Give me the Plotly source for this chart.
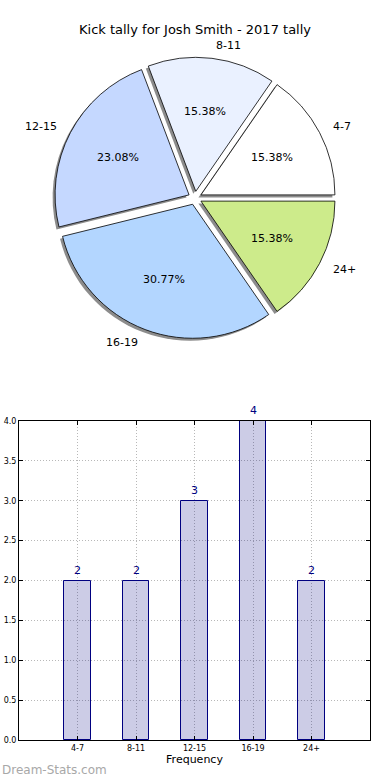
import math
import plotly.graph_objects as go

# ---- data ----
categories = ["4-7", "8-11", "12-15", "16-19", "24+"]
counts = [2, 2, 3, 4, 2]
slice_colors = ["#FFFFFF", "#EAF1FF", "#C5D8FF", "#B3D6FF", "#CDEB8B"]
y_ticks = [0.0, 0.5, 1.0, 1.5, 2.0, 2.5, 3.0, 3.5, 4.0]
title_text = "Kick tally for Josh Smith - 2017 tally"

W, H = 390, 780
FONT = "DejaVu Sans"

# pie geometry (pixels)
cx, cy, R = 195.0, 198.0, 134.0
pull = 0.05
half = R * (1 + pull)
total = sum(counts)
# plotly's counterclockwise start: first slice occupies [rotation, rotation+v] clockwise from 12 o'clock
rotation = 90 - 360.0 * counts[0] / total

def px(x):
    return x / W

def py(y):
    return 1 - y / H

fig = go.Figure()

# shadow pie
sh = 2.5
fig.add_trace(go.Pie(
    labels=categories, values=counts, sort=False, direction="counterclockwise",
    rotation=rotation, pull=[pull] * len(counts),
    marker=dict(colors=["rgba(0,0,0,0.45)"] * len(counts), line=dict(width=0)),
    textinfo="none", hoverinfo="skip", showlegend=False, automargin=False,
    domain=dict(x=[px(cx - half - sh), px(cx + half - sh)],
                y=[py(cy + half + sh), py(cy - half + sh)]),
))
# main pie
fig.add_trace(go.Pie(
    labels=categories, values=counts, sort=False, direction="counterclockwise",
    rotation=rotation, pull=[pull] * len(counts),
    marker=dict(colors=slice_colors, line=dict(color="black", width=0.8)),
    textinfo="none", showlegend=False, automargin=False,
    domain=dict(x=[px(cx - half), px(cx + half)],
                y=[py(cy + half), py(cy - half)]),
))

annotations = []
cum = 0
for lab, v in zip(categories, counts):
    th = 2 * math.pi * (cum + v / 2) / total
    cum += v
    c, s = math.cos(th), math.sin(th)
    ox, oy = cx + pull * R * c, cy - pull * R * s
    lx, ly = ox + 1.1 * R * c, oy - 1.1 * R * s
    tx, ty = ox + 0.6 * R * c, oy - 0.6 * R * s
    annotations.append(dict(x=px(lx), y=py(ly), xref="paper", yref="paper",
                            text=lab, showarrow=False,
                            xanchor="left" if c > 0 else "right", yanchor="middle",
                            font=dict(family=FONT, size=11, color="black")))
    annotations.append(dict(x=px(tx), y=py(ty), xref="paper", yref="paper",
                            text="%.2f%%" % (v / total * 100), showarrow=False,
                            xanchor="center", yanchor="middle",
                            font=dict(family=FONT, size=11, color="black")))

annotations.append(dict(x=0.5, y=py(30), xref="paper", yref="paper", text=title_text,
                        showarrow=False, xanchor="center", yanchor="middle",
                        font=dict(family=FONT, size=13, color="black")))

# bar chart
fig.add_trace(go.Bar(
    x=categories, y=counts, width=0.45,
    marker=dict(color="rgba(0,0,128,0.2)", line=dict(color="#000080", width=1)),
    showlegend=False, xaxis="x", yaxis="y",
))
for lab, v in zip(categories, counts):
    annotations.append(dict(x=lab, y=v, xref="x", yref="y", text=str(v),
                            showarrow=False, yanchor="bottom", yshift=2,
                            font=dict(family=FONT, size=11, color="#000080")))

annotations.append(dict(x=0.0, y=py(770), xref="paper", yref="paper",
                        text="Dream-Stats.com", showarrow=False,
                        xanchor="left", yanchor="middle",
                        font=dict(family=FONT, size=12, color="#A8A8A8")))

grid_style = dict(showgrid=True, gridcolor="#B8B8B8", griddash="1px,2px", gridwidth=1)

fig.update_layout(
    width=W, height=H, autosize=False,
    margin=dict(l=0, r=0, t=0, b=0, pad=0),
    paper_bgcolor="white", plot_bgcolor="white",
    font=dict(family=FONT, color="black"),
    xaxis=dict(domain=[px(19), px(370)], anchor="y", type="category", automargin=False,
               range=[-1, 5], showline=True, linecolor="black", linewidth=1, mirror="ticks",
               ticks="inside", ticklen=4, tickcolor="black",
               tickfont=dict(family=FONT, size=8), zeroline=False,
               title=dict(text="Frequency", font=dict(family=FONT, size=11), standoff=3),
               **grid_style),
    yaxis=dict(domain=[py(740), py(421)], anchor="x", range=[0, 4], automargin=False,
               tickvals=y_ticks, ticktext=["%.1f" % t for t in y_ticks],
               showline=True, linecolor="black", linewidth=1, mirror="ticks",
               ticks="inside", ticklen=4, tickcolor="black",
               tickfont=dict(family=FONT, size=8), zeroline=False,
               **grid_style),
    annotations=annotations,
    bargap=0,
)

fig.write_html("out.html", config={"displayModeBar": False},
               post_script="document.body.style.margin='0';document.body.style.overflow='hidden';")
